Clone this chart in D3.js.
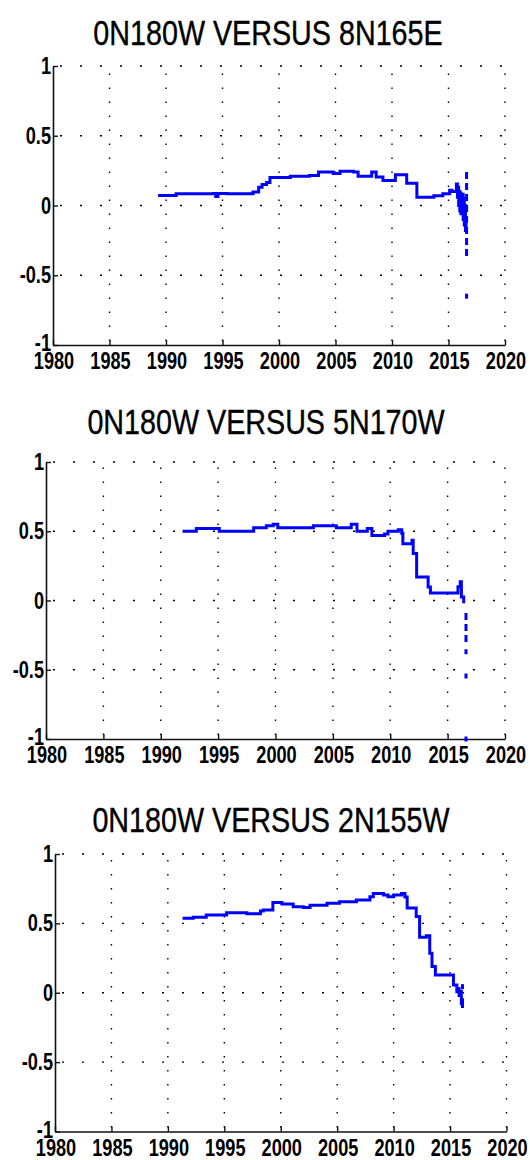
<!DOCTYPE html>
<meta charset="utf-8">
<style>
    body { margin: 0; background: #fff; }
    svg { display: block; }
    .title { font: 35px "Liberation Sans", Arial, sans-serif; fill: #000; stroke: #000; stroke-width: 0.4px; }
    .tick-label { font: bold 23px "Liberation Sans", Arial, sans-serif; fill: #000; }
    .grid { stroke: #000; stroke-width: 1.4px; fill: none; }
    .axis-line { stroke: #111; stroke-width: 1.6px; fill: none; }
    .series { stroke: #0000ff; stroke-width: 3px; fill: none; stroke-linejoin: miter; }
</style>
<svg width="530" height="1160"></svg>
<script src="https://d3js.org/d3.v7.min.js"></script>
<script>

    // tick values shared by the three panels
    var xTicks = [1980, 1985, 1990, 1995, 2000, 2005, 2010, 2015, 2020];
    var yTicks = [-1, -0.5, 0, 0.5, 1];
    var yTickLabels = ["-1", "-0.5", "0", "0.5", "1"];

    // 0N180W versus 8N165E
    var years8N165E = [1989.3, 1990.9, 1994.2, 1994.4, 1994.6, 1995.4, 1997.7, 1998.2, 1998.5, 1998.9,
        1999.2, 2001.0, 2002.7, 2003.5, 2004.8, 2005.4, 2006.6, 2007.0, 2007.9, 2008.2,
        2008.6, 2009.2, 2010.0, 2010.3, 2011.0, 2011.3, 2012.0, 2012.2, 2013.7, 2014.5,
        2015.1, 2015.3, 2015.7, 2015.8, 2015.85, 2015.9, 2015.95, 2016.0, 2016.05, 2016.1,
        2016.15, 2016.2, 2016.25, 2016.3, 2016.35, 2016.4, 2016.45, 2016.5, 2016.55];
    var corr8N165E = [0.072, 0.084, 0.086, 0.065, 0.086, 0.084, 0.096, 0.13, 0.15, 0.165,
        0.2, 0.21, 0.215, 0.24, 0.23, 0.245, 0.24, 0.21, 0.21, 0.24,
        0.205, 0.18, 0.18, 0.22, 0.22, 0.16, 0.16, 0.06, 0.07, 0.085,
        0.11, 0.10, 0.155, 0.06, 0.13, 0.0, 0.1, -0.04, 0.09, -0.06,
        0.07, -0.05, 0.08, -0.1, 0.05, -0.14, 0.0, -0.18, -0.1];
    var tailYears8N165E = [2016.6, 2016.6];
    var tailCorr8N165E = [0.24, -0.38];
    var dotYears8N165E = [2016.6];
    var dotCorr8N165E = [-0.65];

    // 0N180W versus 5N170W
    var years5N170W = [1991.9, 1993.1, 1994.6, 1995.1, 1996.9, 1998.1, 1999.2, 1999.8, 2000.2, 2002.4,
        2003.3, 2004.7, 2005.3, 2006.3, 2006.6, 2007.1, 2008.0, 2008.4, 2009.5, 2009.8,
        2010.7, 2011.0, 2011.1, 2011.6, 2011.9, 2012.0, 2012.3, 2013.0, 2013.3, 2013.5,
        2014.6, 2015.5, 2015.9, 2016.1, 2016.2, 2016.4];
    var corr5N170W = [0.50, 0.52, 0.52, 0.50, 0.50, 0.525, 0.54, 0.55, 0.526, 0.526,
        0.54, 0.54, 0.526, 0.526, 0.55, 0.50, 0.52, 0.47, 0.48, 0.50,
        0.51, 0.485, 0.41, 0.41, 0.435, 0.34, 0.17, 0.17, 0.098, 0.055,
        0.055, 0.055, 0.1, 0.135, 0.026, -0.02];
    var tailYears5N170W = [2016.6, 2016.6];
    var tailCorr5N170W = [-0.09, -0.31];
    var dotYears5N170W = [2016.6, 2016.6, 2016.6];
    var dotCorr5N170W = [-0.37, -0.545, -1.0];

    // 0N180W versus 2N155W
    var years2N155W = [1991.3, 1992.25, 1993.4, 1995.2, 1997.0, 1998.2, 1998.45, 1999.3, 2000.1, 2001.1,
        2002.0, 2002.6, 2004.1, 2005.2, 2006.7, 2007.3, 2007.9, 2008.2, 2009.1, 2009.5,
        2010.0, 2010.7, 2011.0, 2011.2, 2011.7, 2012.0, 2012.3, 2012.9, 2013.2, 2013.4,
        2013.7, 2015.1, 2015.3, 2015.6, 2015.7, 2015.8, 2015.9, 2016.0, 2016.05, 2016.1];
    var corr2N155W = [0.537, 0.544, 0.56, 0.577, 0.57, 0.59, 0.597, 0.65, 0.64, 0.62,
        0.615, 0.63, 0.645, 0.656, 0.668, 0.668, 0.692, 0.716, 0.704, 0.692,
        0.704, 0.716, 0.69, 0.61, 0.61, 0.55, 0.40, 0.41, 0.285, 0.19,
        0.128, 0.128, 0.056, 0.008, 0.03, -0.02, 0.01, -0.08, -0.05, -0.11];
    var tailYears2N155W = [];
    var tailCorr2N155W = [];
    var dotYears2N155W = [2016.1];
    var dotCorr2N155W = [0.044];

    var panels = [
        {title: "0N180W VERSUS 8N165E", years: years8N165E, corr: corr8N165E,
            tailYears: tailYears8N165E, tailCorr: tailCorr8N165E, dotYears: dotYears8N165E, dotCorr: dotCorr8N165E,
            left: 53, right: 505, top: 66, bottom: 345, titleX: 268, titleY: 45},
        {title: "0N180W VERSUS 5N170W", years: years5N170W, corr: corr5N170W,
            tailYears: tailYears5N170W, tailCorr: tailCorr5N170W, dotYears: dotYears5N170W, dotCorr: dotCorr5N170W,
            left: 46, right: 505, top: 462, bottom: 739, titleX: 266, titleY: 434},
        {title: "0N180W VERSUS 2N155W", years: years2N155W, corr: corr2N155W,
            tailYears: tailYears2N155W, tailCorr: tailCorr2N155W, dotYears: dotYears2N155W, dotCorr: dotCorr2N155W,
            left: 55, right: 506.5, top: 854, bottom: 1131.5, titleX: 271, titleY: 831.5}
    ];

    var svg = d3.select("svg");
    var squeeze = 0.79; // the original glyphs are narrow and tall

    function label(g, cls, text, x, y, anchor, sx) {
        return g.append("text")
            .attr("class", cls)
            .attr("text-anchor", anchor)
            .attr("transform", "translate(" + x + "," + y + ") scale(" + (sx || squeeze) + ",1)")
            .text(text);
    }

    panels.forEach(function (p) {
        var g = svg.append("g");

        var x = d3.scaleLinear().domain([1980, 2020]).range([p.left, p.right]);
        var y = d3.scaleLinear().domain([-1, 1]).range([p.bottom, p.top]);

        label(g, "title", p.title, p.titleX, p.titleY, "middle", 0.82);

        // dotted grid
        g.selectAll(".vgrid")
            .data(xTicks.slice(1))
            .enter().append("line")
            .attr("class", "grid")
            .attr("x1", function (d) { return x(d); })
            .attr("x2", function (d) { return x(d); })
            .attr("y1", y(-1))
            .attr("y2", y(1))
            .attr("stroke-dasharray", "1.4,12.6")
            .attr("stroke-dashoffset", 10);

        g.selectAll(".hgrid")
            .data(yTicks.slice(1))
            .enter().append("line")
            .attr("class", "grid")
            .attr("x1", x(1980))
            .attr("x2", x(2020))
            .attr("y1", function (d) { return y(d); })
            .attr("y2", function (d) { return y(d); })
            .attr("stroke-dasharray", "2,18")
            .attr("stroke-dashoffset", -7);

        // axes: left and bottom lines with inward ticks
        g.append("g")
            .attr("transform", "translate(0," + p.bottom + ")")
            .call(d3.axisBottom(x).tickValues(xTicks).tickSize(-5).tickSizeOuter(0).tickFormat(""))
            .call(function (a) {
                a.select(".domain").attr("class", "axis-line");
                a.selectAll(".tick line").attr("stroke", "#111").attr("stroke-width", 1.4);
            });

        g.append("g")
            .attr("transform", "translate(" + p.left + ",0)")
            .call(d3.axisLeft(y).tickValues(yTicks).tickSize(-5).tickSizeOuter(0).tickFormat(""))
            .call(function (a) {
                a.select(".domain").attr("class", "axis-line");
                a.selectAll(".tick line").attr("stroke", "#111").attr("stroke-width", 1.4);
            });

        xTicks.forEach(function (t) {
            label(g, "tick-label", String(t), x(t) + 1, p.bottom + 24, "middle");
        });
        yTicks.forEach(function (t, i) {
            label(g, "tick-label", yTickLabels[i], p.left - 2, y(t) + (t === -1 ? 6 : 8), "end");
        });

        // correlation series
        var pts = p.years.map(function (yr, i) { return [yr, p.corr[i]]; });
        var line = d3.line()
            .x(function (d) { return x(d[0]); })
            .y(function (d) { return y(d[1]); });

        g.append("path")
            .datum(pts)
            .attr("class", "series")
            .attr("d", line.curve(d3.curveStepAfter));

        line.curve(d3.curveLinear);

        if (p.tailYears.length) {
            var tail = p.tailYears.map(function (yr, i) { return [yr, p.tailCorr[i]]; });
            g.append("path")
                .datum(tail)
                .attr("class", "series")
                .attr("stroke-width", 2.5)
                .attr("stroke-dasharray", "7,4")
                .attr("d", line);
        }

        g.selectAll(".dot")
            .data(p.dotYears.map(function (yr, i) { return [yr, p.dotCorr[i]]; }))
            .enter().append("rect")
            .attr("x", function (d) { return x(d[0]) - 1.5; })
            .attr("y", function (d) { return y(d[1]) - 2.5; })
            .attr("width", 3)
            .attr("height", 5)
            .attr("fill", "#0000ff");
    });
</script>
